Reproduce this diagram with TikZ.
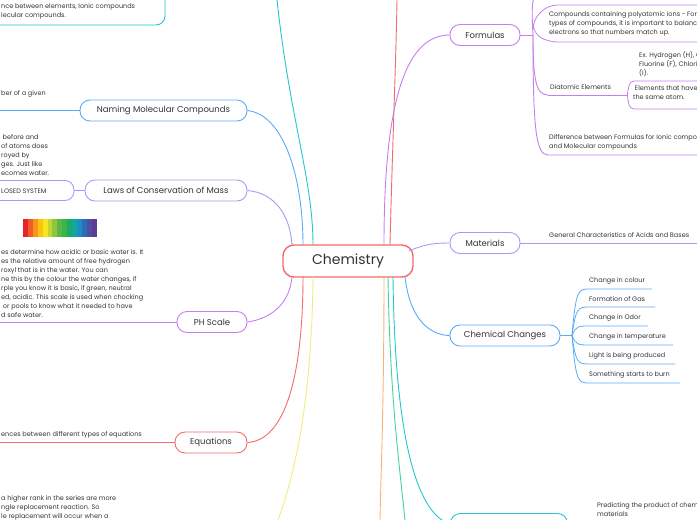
\documentclass[tikz,border=0pt]{standalone}
\usepackage{fontspec}
\setmainfont{Poppins}
\usepackage{xcolor}
\definecolor{cred}{HTML}{F26B6B}
\definecolor{cblue}{HTML}{5AABF5}
\definecolor{clav}{HTML}{A39DF5}
\definecolor{cpurp}{HTML}{C47FEE}
\definecolor{ccyan}{HTML}{22C7CF}
\definecolor{cyell}{HTML}{F3EC7A}
\definecolor{cgreen}{HTML}{3FD49A}
\definecolor{corange}{HTML}{F8B37A}
\definecolor{txt}{HTML}{333333}
\tikzset{
  topic/.style={draw=#1, line width=0.9pt, rounded corners=10pt, fill=white, text=txt,
    font=\fontsize{8.5}{10}\selectfont, minimum height=21pt, inner xsep=8pt},
  leaf/.style={text=txt, font=\fontsize{6.5}{9}\selectfont, align=left, anchor=west, inner sep=1pt},
  link/.style={draw=#1, line width=0.9pt}
}
\begin{document}
\begin{tikzpicture}[x=1pt,y=-1pt]
    \useasboundingbox (0,0) rectangle (697,520);
    \clip (0,0) rectangle (697,520);

    % centre
    \node[draw=cred, line width=1.4pt, rounded corners=11pt, fill=white, text=txt,
      minimum width=130pt, minimum height=32pt, font=\fontsize{14}{16}\selectfont] (chem) at (348,261) {Chemistry};

    % left side
    \node[topic=cblue, minimum width=167pt] (naming) at (163.5,110.5) {Naming Molecular Compounds};
    \node[topic=clav, minimum width=162pt] (laws) at (166,190.5) {Laws of Conservation of Mass};
    \node[topic=cpurp, minimum width=70pt] (ph) at (212,322) {PH Scale};
    \node[topic=cred, minimum width=72pt] (eqs) at (211,442.5) {Equations};

    \coordinate (nameend) at (0,110.5);
    \draw[link=cblue] (naming.west) -- (nameend);
    \node[leaf] (namet) at (0,94) {ber of a given};

    \draw[clav, line width=0.9pt, rounded corners=9pt] (-20,180.5) -- (74,180.5) -- (74,200.5) -- (-20,200.5);
    \node[leaf] (closed) at (0,191) {LOSED SYSTEM};
    \coordinate (closedend) at (74,190.5);
    \draw[link=clav] (closedend) -- (laws.west);
    \node[leaf, anchor=north west] (lawst) at (0,133) {\hspace*{1.5pt}before and\\ of atoms does\\ royed by\\ ges. Just like\\ ecomes water.};

    % pH strip
    \foreach \c [count=\i] in {E8242A,F15A29,F7941D,FFC20E,F2E922,C2D62E,8DC63F,5BB648,39B54A,1EA96A,10A99A,1B8DC9,2E6CB4,4F4EA1,5E3B97}{
      \definecolor{band}{HTML}{\c}
      \fill[band] (23+4.9*\i-4.9,219) rectangle (23+4.9*\i,237);
    }
    \node[leaf, anchor=north west] (pht) at (0,248) {es determine how acidic or basic water is. It\\ es the relative amount of free hydrogen\\ roxyl that is in the water. You can\\ ne this by the colour the water changes, if\\ rple you know it is basic, if green, neutral\\ ed, acidic. This scale is used when chocking\\ \ or pools to know what it needed to have\\ d safe water.};
    \coordinate (phend) at (0,322);
    \draw[link=cpurp] (ph.west) -- (phend);

    \coordinate (eqend) at (0,442.5);
    \draw[link=cred] (eqs.west) -- (eqend);
    \node[leaf] (eqt) at (0,435) {ences between different types of equations};
    \node[leaf, anchor=north west] (sert) at (0,494) {a higher rank in the series are more\\ ngle replacement reaction. So\\ le replacement will occur when a};

    % top-left cut box
    \draw[ccyan, line width=0.9pt, rounded corners=9pt] (-20,-20) -- (165,-20) -- (165,25) -- (-20,25);
    \node[leaf, anchor=north west] (elt) at (0,2) {nce between elements, Ionic compounds\\ lecular compounds.};

    % left connectors
    \coordinate (tl) at (277,0);
    \draw[link=ccyan] (tl) .. controls (290,120) and (313,180) .. (313,245);
    \draw[link=cblue] (naming.east) .. controls (285,115) and (303,180) .. (303,245);
    \draw[link=clav] (laws.east) .. controls (275,193) and (290,215) .. (292,245);
    \draw[link=cpurp] (ph.east) .. controls (275,318) and (290,300) .. (292,277);
    \draw[link=cred] (eqs.east) .. controls (290,440) and (303,360) .. (303,277);
    \coordinate (yb) at (278,520);
    \draw[link=cyell] (313,277) .. controls (312,380) and (300,460) .. (yb);

    % right side
    \node[topic=cpurp, minimum width=70pt] (form) at (485,35) {Formulas};
    \node[topic=clav, minimum width=70pt] (mat) at (485,243) {Materials};
    \node[topic=cblue, minimum width=110pt] (cc) at (505,335.5) {Chemical Changes};
    \node[topic=ccyan, minimum width=117pt, anchor=north west] (pred) at (450,513) {};

    \coordinate (tr) at (397,0);
    \draw[link=cred] (390,245) .. controls (392,160) and (396,60) .. (tr);
    \draw[link=cpurp] (384,245) .. controls (384,120) and (400,35) .. (form.west);
    \draw[link=clav] (409,251) .. controls (425,244) and (435,243) .. (mat.west);
    \draw[link=cblue] (405,277) .. controls (410,320) and (430,335) .. (cc.west);
    \coordinate (ob) at (380,520);
    \coordinate (gb) at (405,520);
    \draw[link=corange] (384,277) .. controls (384,400) and (381,470) .. (ob);
    \draw[link=cgreen] (388,277) .. controls (390,400) and (400,470) .. (gb);
    \draw[link=ccyan] (393,277) .. controls (395,450) and (420,515) .. (pred.west);

    % formulas children
    \draw[cpurp, line width=0.8pt, rounded corners=9pt] (720,5) -- (548,5) -- (533,20) -- (533,33) -- (548,42) -- (720,42);
    \node[leaf, anchor=north west] (poly) at (548,10) {Compounds containing polyatomic ions - For these\\ types of compounds, it is important to balance the\\ electrons so that numbers match up.};
    \node[leaf] (diat) at (549,87) {Diatomic Elements};
    \coordinate (diatend) at (627,95);
    \coordinate (diatst) at (548,95);
    \draw[link=cpurp] (diatst) -- (diatend);
    \draw[cpurp, line width=0.8pt, rounded corners=4pt] (720,81) -- (630,81) -- (627,95) -- (630,109) -- (720,109);
    \node[leaf, anchor=north west] (diatb) at (632,84) {\ Elements that have two of\\ the same atom.};
    \node[leaf, anchor=north west] (ex) at (638,50) {Ex. Hydrogen (H), Oxygen (O),\\ Fluorine (F), Chlorine (Cl), Iodine\\ (I).};
    \node[leaf, anchor=north west] (diff) at (548,133) {Difference between Formulas for Ionic compounds\\ and Molecular compounds};
    \coordinate (diffend) at (720,155);
    \draw[link=cpurp] (form.east) -- (533,35);
    \draw[link=cpurp] (533,35) .. controls (531,0) and (533,0) .. (537,-10);
    \draw[link=cpurp] (533,35) .. controls (533,80) and (536,95) .. (diatst);
    \draw[link=cpurp] (533,35) .. controls (533,130) and (536,155) .. (548,155) -- (diffend);

    % materials child
    \coordinate (matend) at (697,243);
    \draw[link=clav] (mat.east) -- (matend);
    \node[leaf] (acid) at (548,235.5) {General Characteristics of Acids and Bases};

    % chemical changes children
    \draw[link=cblue] (cc.east) -- (572,335.5) coordinate (ccj);
    \foreach \t/\y/\e [count=\i] in {Change in colour/281/652, Formation of Gas/299/655, Change in Odor/318/648,
      Change in temperature/337/673, Light is being produced/356/675, Something starts to burn/375/680}{
      \node[leaf] (ch\i) at (588,\y) {\t};
      \draw[cblue, line width=0.8pt] (ccj) .. controls (576,\y+8) and (578,\y+8) .. (590,\y+8) -- (\e,\y+8);
    }

    \node[leaf, anchor=north west] (predt) at (596,501) {Predicting the product of chemical reactions of\\ materials};
\end{tikzpicture}
\end{document}
